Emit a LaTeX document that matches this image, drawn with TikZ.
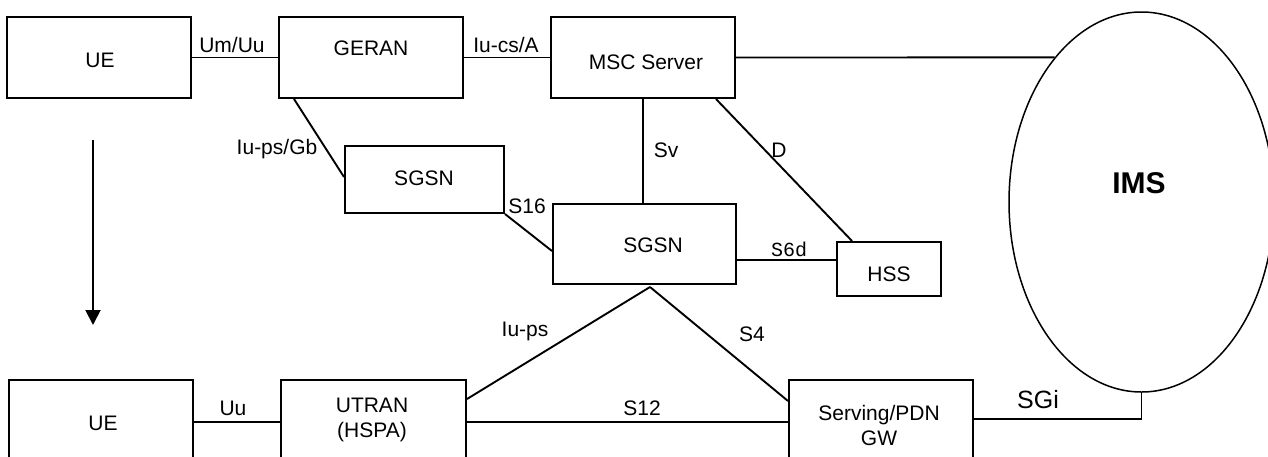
\documentclass[tikz,border=0pt]{standalone}
\usepackage{fontspec}
\setmainfont{Liberation Sans}
\newfontfamily\monofnt{Liberation Mono}
\usetikzlibrary{shapes.geometric,arrows.meta,calc}
\tikzset{
  box/.style={draw, line width=2pt, rectangle, inner sep=0pt},
  txt/.style={inner sep=0pt, font=\fontsize{21}{25}\selectfont, align=center},
  lbl/.style={inner sep=0pt, font=\fontsize{21}{25}\selectfont},
  conn/.style={line width=1.9pt},
}
\begin{document}
\begin{tikzpicture}[x=1pt,y=-1pt]
\clip (0,0) rectangle (1268,456);
\useasboundingbox (0,0) rectangle (1268,456);
% boxes
\node[box, minimum width=184pt, minimum height=81pt] (ue1) at (99,57.5) {};
\node[box, minimum width=184pt, minimum height=81pt] (geran) at (371,57.5) {};
\node[box, minimum width=184pt, minimum height=81pt] (msc) at (643,57.5) {};
\node[box, minimum width=159pt, minimum height=67pt] (sgsn1) at (424.5,179.5) {};
\node[box, minimum width=183pt, minimum height=80pt] (sgsn2) at (644.5,244) {};
\node[box, minimum width=104pt, minimum height=54pt] (hss) at (889,269) {};
\node[box, minimum width=184pt, minimum height=100pt] (ue2) at (101,430) {};
\node[box, minimum width=185pt, minimum height=100pt] (utran) at (373.5,430) {};
\node[box, minimum width=184pt, minimum height=100pt] (gw) at (881,430) {};
\node[draw, line width=1.5pt, ellipse, inner sep=0pt, minimum width=265pt, minimum height=380pt] (ims) at (1141.5,202) {};
% box texts
\node[txt] (ue1t) at (100,60) {UE};
\node[txt] (gerant) at (371,48) {GERAN};
\node[txt] (msct) at (646,62) {MSC Server};
\node[txt] (sgsn1t) at (424,178) {SGSN};
\node[txt] (sgsn2t) at (653,245.5) {SGSN};
\node[txt] (hsst) at (889,274) {HSS};
\node[txt] (ue2t) at (103,423) {UE};
\node[txt] (utrant) at (372,420) {UTRAN\\(HSPA)};
\node[txt] (gwt) at (879,425) {Serving/PDN\\GW};
\node[inner sep=0pt, font=\fontsize{30}{34}\selectfont\bfseries] (imst) at (1139,183) {IMS};
% connectors
\draw[conn] (ue1.east) -- (geran.west);
\draw[conn] (geran.east) -- (msc.west);
\draw[conn] (msc.east) -- (ims.121);
\draw[conn] ([xshift=16pt]geran.south west) -- ([yshift=2.5pt]sgsn1.west);
\draw[conn] (sgsn1.south east) -- ([yshift=-7pt]sgsn2.west);
\draw[conn] (msc.south) -- (msc.south |- sgsn2.north);
\draw[conn] ([xshift=-20pt]msc.south east) -- ([xshift=16pt]hss.north west);
\draw[conn] ([yshift=-16pt]sgsn2.east) coordinate (s6a) -- (s6a -| hss.west);
\coordinate (apex) at ([xshift=5.5pt,yshift=-2pt]sgsn2.south);
\draw[conn] (apex) -- ([yshift=-20pt]utran.north east);
\draw[conn] (apex) -- ([yshift=-22pt]gw.north west);
\draw[conn] ([yshift=8pt]utran.east) -- ([yshift=8pt]gw.west);
\draw[conn] ([yshift=8pt]ue2.east) -- ([yshift=8pt]utran.west);
\draw[conn] ([yshift=11pt]gw.east) -| (ims.south);
\coordinate (arrtop) at (93,140);
\coordinate (arrbot) at (93,325);
\draw[conn, -{Triangle[width=15pt,length=15pt]}] (arrtop) -- (arrbot);
% labels
\node[lbl] (l1) at (232,45) {Um/Uu};
\node[lbl] (l2) at (506,45) {Iu-cs/A};
\node[lbl] (l3) at (277,149) {Iu-ps/Gb};
\node[lbl] (l4) at (666,150) {Sv};
\node[lbl] (l5) at (779,150) {D};
\node[lbl] (l6) at (527,206) {S16};
\node[inner sep=0pt, font=\monofnt\fontsize{20}{22}\selectfont] (l7) at (789,249) {S6d};
\node[lbl] (l8) at (525,331) {Iu-ps};
\node[lbl] (l9) at (752,334) {S4};
\node[lbl] (l10) at (642,408) {S12};
\node[lbl] (l11) at (233,408) {Uu};
\node[inner sep=0pt, font=\fontsize{25}{28}\selectfont] (l12) at (1038,400) {SGi};
\end{tikzpicture}
\end{document}
